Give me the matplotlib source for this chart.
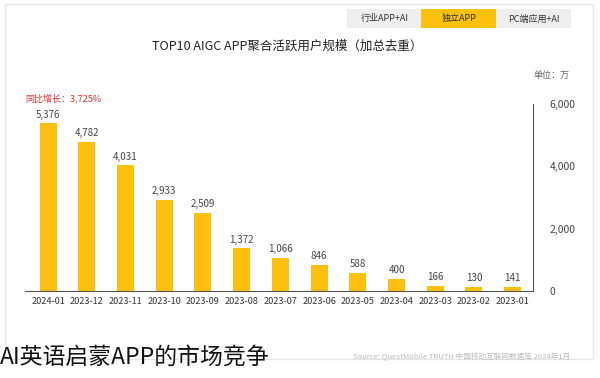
import numpy as np
import matplotlib.pyplot as plt
from matplotlib.patches import Rectangle

plt.rcParams['font.family'] = ['Noto Sans CJK SC', 'DejaVu Sans']

# Данные (картинка зеркальная: слева 2024-01, справа 2023-01)
months = ['2024-01', '2023-12', '2023-11', '2023-10', '2023-09', '2023-08', '2023-07',
          '2023-06', '2023-05', '2023-04', '2023-03', '2023-02', '2023-01']
users = [5376, 4782, 4031, 2933, 2509, 1372, 1066, 846, 588, 400, 166, 130, 141]
y_ticks = [0, 2000, 4000, 6000]
tabs = ['行业APP+AI', '独立APP', 'PC端应用+AI']

fig = plt.figure(figsize=(6, 3.78), dpi=100)
fig.patch.set_facecolor('white')

# рамка
fig.add_artist(Rectangle((0.008, 0.05), 0.98, 0.94, transform=fig.transFigure,
                         fill=False, edgecolor='#e6e6e6', linewidth=1))

ax = fig.add_axes([0.042, 0.230, 0.846, 0.495])
ax.set_facecolor('none')

x = np.arange(len(months))
ax.bar(x, users, width=0.44, color='#FDC00F', zorder=2)
for xi, v in zip(x, users):
    ax.text(xi, v + 120, f'{v:,}', ha='center', va='bottom', fontsize=7,
            color='#444444', zorder=3)

ax.set_xlim(-0.59, 12.52)
ax.set_ylim(0, 6000)
ax.set_xticks(x)
ax.set_xticklabels(months, fontsize=6.6, color='#333333')
ax.set_yticks(y_ticks)
ax.set_yticklabels([f'{t:,}' for t in y_ticks], fontsize=7.5, color='#444444')
ax.yaxis.tick_right()
ax.tick_params(axis='y', length=0, pad=12)
ax.tick_params(axis='x', length=0, pad=4)
for s in ['top', 'left']:
    ax.spines[s].set_visible(False)
ax.spines['right'].set_color('#555555')
ax.spines['bottom'].set_color('#555555')
ax.spines['right'].set_linewidth(0.8)
ax.spines['bottom'].set_linewidth(0.8)

# вкладки сверху
tab_x = [0.578, 0.702, 0.827]
tab_colors = ['#eeeeee', '#FDC00F', '#eeeeee']
for tx, label, c in zip(tab_x, tabs, tab_colors):
    fig.add_artist(Rectangle((tx, 0.925), 0.125, 0.05, transform=fig.transFigure,
                             facecolor=c, edgecolor='none'))
    fig.text(tx + 0.0625, 0.95, label, fontsize=6.5, ha='center', va='center', color='#333333')

fig.text(0.478, 0.878, 'TOP10 AIGC APP聚合活跃用户规模（加总去重）', fontsize=9,
         ha='center', va='center', color='#222222')
fig.text(0.042, 0.74, '同比增长：3,725%', fontsize=6.5, color='#e03030', va='center')
fig.text(0.95, 0.80, '单位：万', fontsize=6.5, color='#666666', ha='right', va='center')
fig.text(0.95, 0.055, 'Source: QuestMobile TRUTH 中国移动互联网数据库 2024年1月', fontsize=5.5,
         color='#bbbbbb', ha='right', va='center')

fig.text(0.0, 0.055, 'AI英语启蒙APP的市场竞争', fontsize=16.5, color='#111111',
         ha='left', va='center', fontweight='light')

fig.savefig('out.png', dpi=100)
